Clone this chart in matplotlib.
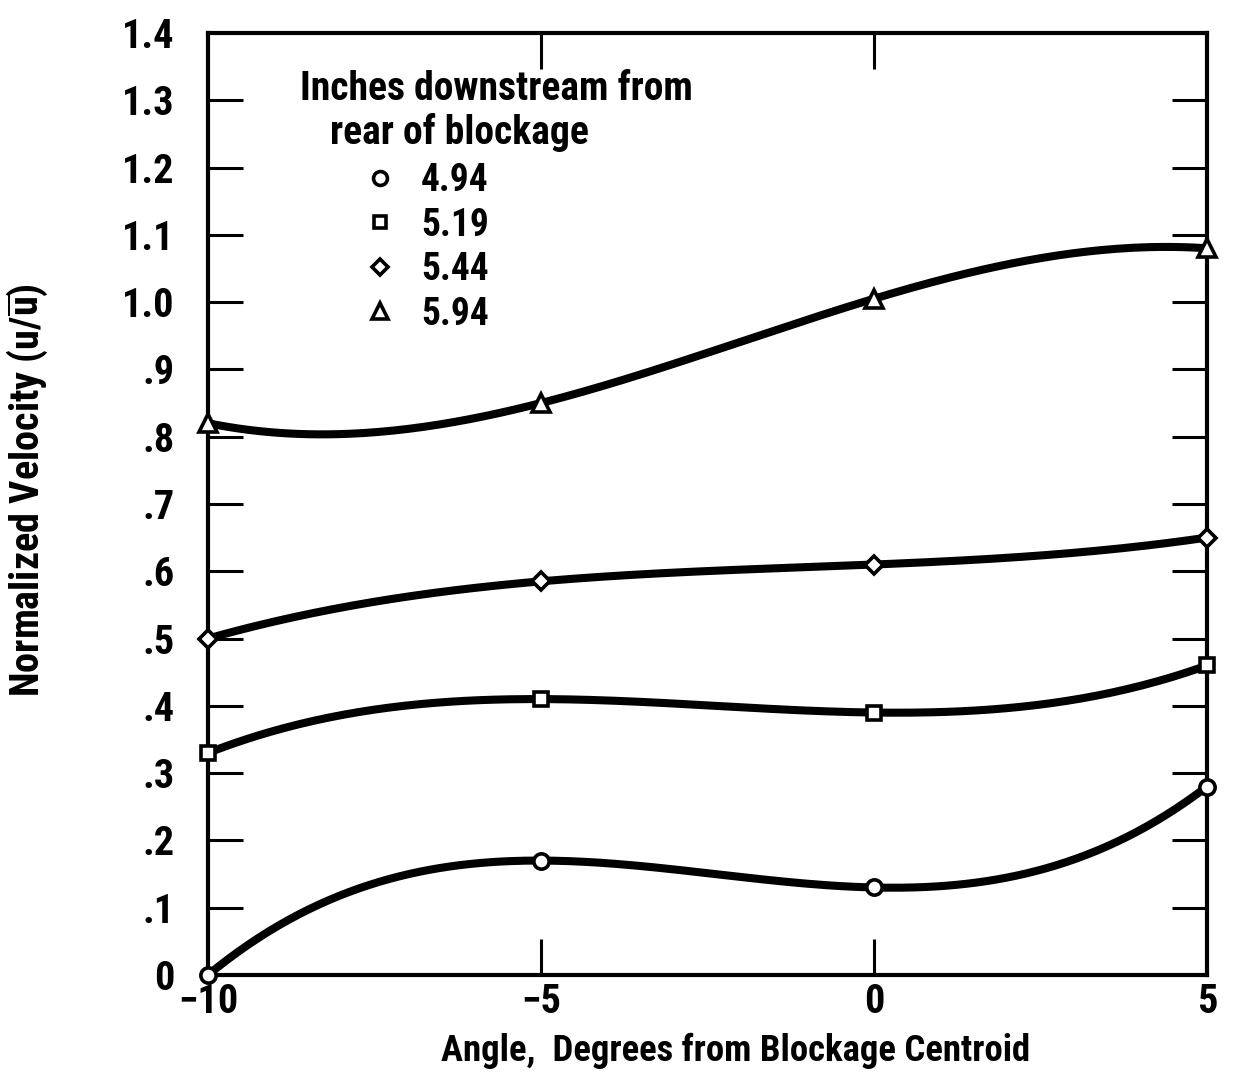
import numpy as np
import matplotlib
matplotlib.use("Agg")
import matplotlib.pyplot as plt
from matplotlib.lines import Line2D

plt.rcParams['font.family'] = ['Roboto Condensed', 'DejaVu Sans']
plt.rcParams['font.weight'] = 'bold'
plt.rcParams['axes.labelweight'] = 'bold'
plt.rcParams['mathtext.fontset'] = 'custom'
plt.rcParams['mathtext.rm'] = 'Roboto Condensed:bold'

# data
angles = [-10, -5, 0, 5]
labels = ['4.94', '5.19', '5.44', '5.94']
markers = ['o', 's', 'D', '^']
v_494 = [0.0, 0.17, 0.13, 0.28]
v_519 = [0.33, 0.41, 0.39, 0.46]
v_544 = [0.50, 0.585, 0.61, 0.65]
v_594 = [0.82, 0.85, 1.005, 1.08]
series = [v_494, v_519, v_544, v_594]

xticks = [-10, -5, 0, 5]
xticklabels = ['\u221210', '\u22125', '0', '5']
yticks = [0, 0.1, 0.2, 0.3, 0.4, 0.5, 0.6, 0.7, 0.8, 0.9, 1.0, 1.1, 1.2, 1.3, 1.4]
yticklabels = ['0', '.1', '.2', '.3', '.4', '.5', '.6', '.7', '.8', '.9',
               '1.0', '1.1', '1.2', '1.3', '1.4']

fig = plt.figure(figsize=(12.51, 10.88), dpi=100)
ax = fig.add_axes([0.1663, 0.1039, 0.7985, 0.8658])

msize = {'o': 11, 's': 10, 'D': 9, '^': 13}
handles = []
for vals, m, lab in zip(series, markers, labels):
    # faired curve through the four measured points
    coef = np.polyfit(angles, vals, 3)
    xs = np.linspace(-10, 5, 200)
    ax.plot(xs, np.polyval(coef, xs), color='black', lw=5.8, solid_capstyle='round', zorder=2)
    ax.plot(angles, vals, linestyle='none', marker=m, ms=msize[m], mfc='white',
            mec='black', mew=2.6, zorder=3, clip_on=False)
    handles.append(Line2D([], [], linestyle='none', marker=m, ms=msize[m] - 1,
                          mfc='white', mec='black', mew=2.6, label=lab))

ax.set_xlim(-10, 5)
ax.set_ylim(0, 1.4)

ax.set_xticks(xticks)
ax.set_xticklabels(xticklabels)
ax.set_yticks(yticks)
ax.set_yticklabels(yticklabels)

ax.tick_params(axis='x', direction='in', length=26, width=2.2, labelsize=29, pad=6,
               top=True)
ax.tick_params(axis='y', direction='in', length=25, width=2.2, labelsize=29, pad=24,
               right=True)
# no ticks at the ends
for t in [ax.xaxis.get_major_ticks()[0], ax.xaxis.get_major_ticks()[-1]]:
    t.tick1line.set_visible(False)
    t.tick2line.set_visible(False)
for t in [ax.yaxis.get_major_ticks()[0], ax.yaxis.get_major_ticks()[-1]]:
    t.tick1line.set_visible(False)
    t.tick2line.set_visible(False)

for sp in ax.spines.values():
    sp.set_linewidth(3)

ax.set_xlabel('Angle,  Degrees from Blockage Centroid', fontsize=26.5)
ax.xaxis.set_label_coords(0.528, -0.061)
ax.set_ylabel(r'Normalized Velocity (u/$\overline{\mathrm{u}}$)', fontsize=29)
ax.yaxis.set_label_coords(-0.158, 0.515)

ax.text(0.092, 0.94, 'Inches downstream from', transform=ax.transAxes,
        fontsize=28.5, va='center', ha='left')
ax.text(0.122, 0.894, 'rear of blockage', transform=ax.transAxes,
        fontsize=28.5, va='center', ha='left')
ax.legend(handles=handles, loc='upper left', bbox_to_anchor=(0.153, 0.863),
          frameon=False, fontsize=27, handlelength=1.0, handletextpad=0.6,
          borderpad=0, borderaxespad=0, labelspacing=0.2)

fig.savefig('out.png', dpi=100)
